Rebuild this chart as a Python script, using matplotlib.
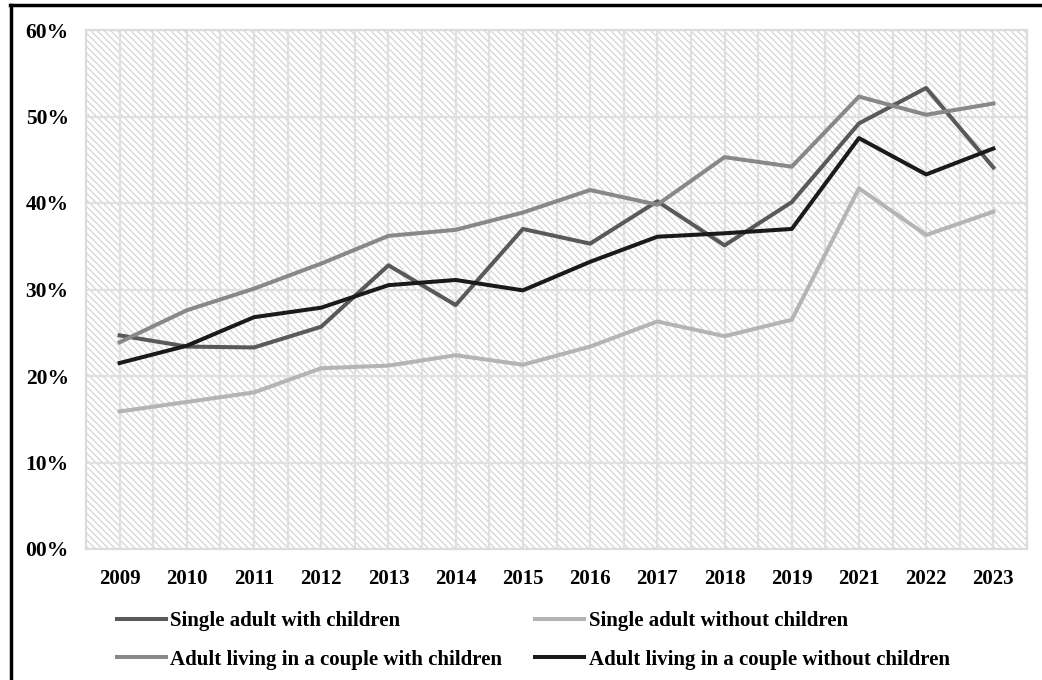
import matplotlib.pyplot as plt
from matplotlib.lines import Line2D
from matplotlib.patches import Rectangle

years = ["2009", "2010", "2011", "2012", "2013", "2014", "2015",
         "2016", "2017", "2018", "2019", "2021", "2022", "2023"]

single_with = [24.7, 23.4, 23.3, 25.7, 32.8, 28.2, 37.0,
               35.3, 40.2, 35.1, 40.1, 49.2, 53.3, 44.1]
single_without = [15.9, 17.0, 18.1, 20.9, 21.2, 22.4, 21.3,
                  23.4, 26.3, 24.6, 26.5, 41.7, 36.3, 39.0]
couple_with = [23.9, 27.6, 30.1, 33.0, 36.2, 36.9, 38.9,
               41.5, 39.8, 45.3, 44.2, 52.3, 50.2, 51.5]
couple_without = [21.5, 23.5, 26.8, 27.9, 30.5, 31.1, 29.9,
                  33.2, 36.1, 36.5, 37.0, 47.5, 43.3, 46.3]

y_ticks = [0, 10, 20, 30, 40, 50, 60]
y_labels = ["00%", "10%", "20%", "30%", "40%", "50%", "60%"]

plt.rcParams["font.family"] = ["Liberation Serif", "DejaVu Serif"]
plt.rcParams["font.weight"] = "bold"
plt.rcParams["hatch.color"] = "#d4d4d4"
plt.rcParams["hatch.linewidth"] = 0.9

fig = plt.figure(figsize=(10.42, 6.80), dpi=100)
ax = fig.add_axes([86 / 1042, 131 / 680, 941 / 1042, 519 / 680])

x = list(range(len(years)))

# hatched background of the plot area
ax.add_patch(Rectangle((0, 0), 1, 1, transform=ax.transAxes, facecolor="white",
                       hatch="\\\\\\\\\\", edgecolor="#d4d4d4", linewidth=0, zorder=0))

ax.plot(x, single_with, color="#595959", lw=2.9, label="Single adult with children", zorder=3)
ax.plot(x, single_without, color="#b4b4b4", lw=2.9, label="Single adult without children", zorder=3)
ax.plot(x, couple_with, color="#888888", lw=2.9, label="Adult living in a couple with children", zorder=3)
ax.plot(x, couple_without, color="#1a1a1a", lw=2.9, label="Adult living in a couple without children", zorder=3)

ax.set_xlim(-0.5, len(years) - 0.5)
ax.set_ylim(0, 60)
ax.set_yticks(y_ticks)
ax.set_yticklabels(y_labels)
ax.set_xticks(x)
ax.set_xticklabels(years)
ax.set_xticks([i + 0.5 for i in x[:-1]], minor=True)

ax.grid(True, which="major", color="#e0e0e0", lw=1.6, zorder=1)
ax.grid(True, which="minor", axis="x", color="#e0e0e0", lw=1.6, zorder=1)
ax.set_axisbelow(True)
for side in ax.spines.values():
    side.set_color("#dcdcdc")
    side.set_linewidth(1.6)

ax.tick_params(axis="both", which="both", length=0)
ax.tick_params(axis="x", labelsize=15, pad=14.5)
ax.tick_params(axis="y", labelsize=15.5, pad=12.5)

handles, labels = ax.get_legend_handles_labels()
order = [0, 2, 1, 3]
fig.legend([handles[i] for i in order], [labels[i] for i in order],
           loc="upper left", bbox_to_anchor=(117 / 1042, 1 - 611 / 680),
           ncol=2, frameon=False, fontsize=15, handlelength=2.35,
           handletextpad=0.2, columnspacing=1.6, labelspacing=0.9,
           borderaxespad=0, borderpad=0)

# frame of the cropped figure
fig.add_artist(Line2D([10 / 1042, 1], [1 - 5 / 680, 1 - 5 / 680], color="black", lw=2.5,
                      transform=fig.transFigure))
fig.add_artist(Line2D([11 / 1042, 11 / 1042], [0, 1 - 5 / 680], color="black", lw=2.5,
                      transform=fig.transFigure))

fig.savefig("out.png", dpi=100)
